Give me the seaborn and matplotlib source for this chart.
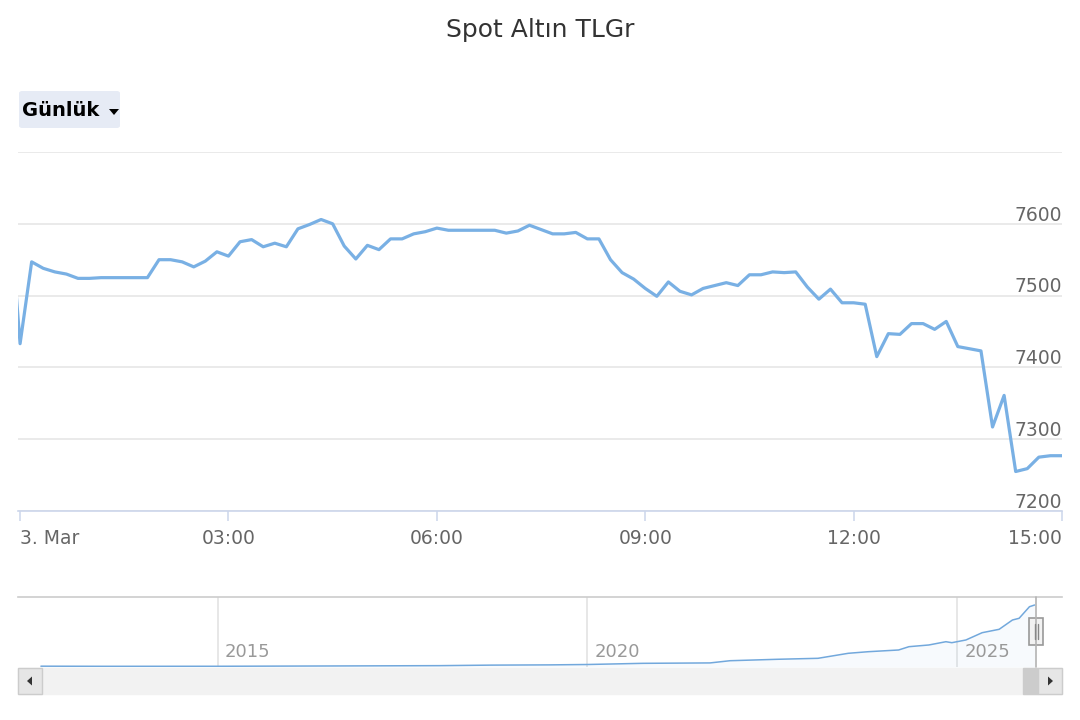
import numpy as np
import pandas as pd
import matplotlib
matplotlib.use("Agg")
import matplotlib.pyplot as plt
import seaborn as sns
from matplotlib.patches import Rectangle, FancyBboxPatch, Polygon
from matplotlib.lines import Line2D

# --- data -------------------------------------------------------------
title = "Spot Altın TLGr"
button_label = "Günlük"

# 10-minute prices, 3 March; the first one is the last tick of the day before
times = pd.date_range("2026-03-02 23:50", "2026-03-03 15:00", freq="10min")
price = [7640,
         7433, 7547, 7538, 7533, 7530, 7524, 7524, 7525, 7525, 7525,
         7525, 7525, 7550, 7550, 7547, 7540, 7548, 7561, 7555, 7575,
         7578, 7568, 7573, 7568, 7593, 7599, 7606, 7600, 7569, 7551,
         7570, 7564, 7579, 7579, 7586, 7589, 7594, 7591, 7591, 7591,
         7591, 7591, 7587, 7590, 7598, 7592, 7586, 7586, 7588, 7579,
         7579, 7550, 7532, 7523, 7510, 7499, 7519, 7506, 7501, 7510,
         7514, 7518, 7514, 7529, 7529, 7533, 7532, 7533, 7512, 7495,
         7509, 7490, 7490, 7488, 7415, 7447, 7446, 7461, 7461, 7453,
         7464, 7429, 7426, 7423, 7317, 7361, 7255, 7259, 7275, 7277,
         7277]

xtick_hours = [0, 3, 6, 9, 12, 15]
xtick_labels = ["3. Mar", "03:00", "06:00", "09:00", "12:00", "15:00"]
ytick_values = [7200, 7300, 7400, 7500, 7600, 7700]
ytick_labels = ["7200", "7300", "7400", "7500", "7600", ""]

# navigator (long history, TL per gram)
nav_year = [2012.61, 2013.5, 2015.0, 2016.5, 2018.0, 2018.7, 2019.5, 2020.0,
            2020.75, 2021.66, 2021.93, 2022.57, 2023.12, 2023.53, 2023.80,
            2024.21, 2024.35, 2024.62, 2024.85, 2024.93, 2025.12, 2025.34,
            2025.57, 2025.75, 2025.84, 2025.98, 2026.05]
nav_price = [100, 85, 90, 125, 165, 230, 260, 306,
             450, 500, 770, 945, 1065, 1680, 1875,
             2085, 2490, 2700, 3100, 2980, 3310, 4205,
             4620, 5760, 5970, 7390, 7600]
nav_ticks = [2015, 2020, 2025]

# --- style ------------------------------------------------------------
sns.set_theme(style="white")
plt.rcParams['font.family'] = ['DejaVu Sans']

W, H = 1080, 720
fig = plt.figure(figsize=(W / 100, H / 100), dpi=100)
line_col = "#7cb5ec"


def fbox(x0, y0, x1, y1):
    # pixel box (top-left origin) -> figure rect
    return [x0 / W, 1 - y1 / H, (x1 - x0) / W, (y1 - y0) / H]


# --- main chart -------------------------------------------------------
hours = (times - pd.Timestamp("2026-03-03 00:00")) / pd.Timedelta(hours=1)
df = pd.DataFrame({"hour": hours, "price": price})

ax = fig.add_axes(fbox(18, 152, 1062, 511))
sns.lineplot(data=df, x="hour", y="price", ax=ax, color="#79b0e4", lw=2.3)
ax.set_xlim(-0.03, 15.0)
ax.set_ylim(7200, 7700)
ax.set_xlabel("")
ax.set_ylabel("")
ax.set_yticks(ytick_values)
ax.set_yticklabels([])
ax.tick_params(axis="y", length=0)
ax.grid(axis="y", color="#e6e6e6", lw=1.2)
ax.grid(axis="x", visible=False)
for s in ["top", "left", "right"]:
    ax.spines[s].set_visible(False)
ax.spines["bottom"].set_color("#ccd6eb")
ax.spines["bottom"].set_linewidth(1.2)

ax.set_xticks(xtick_hours)
ax.set_xticklabels(xtick_labels, fontsize=13.5, color="#666666")
ax.tick_params(axis="x", bottom=True, length=7, width=1.1, color="#ccd6eb",
               pad=6, direction="out")
tl = ax.get_xticklabels()
tl[0].set_ha("left")
tl[-1].set_ha("right")

for v, lab in zip(ytick_values, ytick_labels):
    ax.text(1.0, v - 1, lab, transform=ax.get_yaxis_transform(),
            ha="right", va="bottom", fontsize=13.5, color="#666666")

fig.text(0.5, 1 - 30 / H, title, ha="center", va="center", fontsize=18, color="#333333")

# range selector button
btn = FancyBboxPatch((19 / W, 1 - 128 / H), 101 / W, 37 / H,
                     boxstyle="round,pad=0,rounding_size=0.003",
                     transform=fig.transFigure, fc="#e6ebf5", ec="none")
fig.add_artist(btn)
fig.text(22 / W, 1 - 110 / H, button_label, ha="left", va="center",
         fontsize=14, fontweight="bold", color="#000000")
fig.add_artist(Polygon([(109 / W, 1 - 109 / H), (119 / W, 1 - 109 / H), (114 / W, 1 - 115 / H)],
                       closed=True, transform=fig.transFigure, fc="#000000", ec="none"))

# --- navigator --------------------------------------------------------
nav = fig.add_axes(fbox(18, 597, 1062, 667))
nav_df = pd.DataFrame({"year": nav_year, "price": nav_price})
sns.lineplot(data=nav_df, x="year", y="price", ax=nav, color="#72a8dc", lw=1.1)
nav.fill_between(nav_year, nav_price, 0, color=line_col, alpha=0.06, lw=0)
nav.set_xlim(2012.3, 2026.42)
nav.set_ylim(0, 8580)
nav.set_xlabel("")
nav.set_ylabel("")
nav.set_yticks([])
nav.set_xticks(nav_ticks)
nav.set_xticklabels([])
nav.tick_params(length=0)
nav.grid(axis="x", color="#e0e0e0", lw=1.1)
nav.grid(axis="y", visible=False)
for s in ["bottom", "left", "right"]:
    nav.spines[s].set_visible(False)
nav.spines["top"].set_color("#cccccc")
nav.spines["top"].set_linewidth(1.2)
for yr in nav_ticks:
    nav.text(yr + 0.1, 0.08, str(yr), transform=nav.get_xaxis_transform(),
             ha="left", va="bottom", fontsize=13, color="#999999")

# handle at the right end of the navigator
fig.add_artist(Line2D([1036 / W, 1036 / W], [1 - 597 / H, 1 - 667 / H],
                      transform=fig.transFigure, color="#b3b3b3", lw=1.2))
fig.add_artist(Rectangle((1029 / W, 1 - 645 / H), 14 / W, 27 / H,
                         transform=fig.transFigure, fc="#f2f2f2", ec="#999999", lw=1.2))
for hx in [1034.5, 1037.5]:
    fig.add_artist(Line2D([hx / W, hx / W], [1 - 624 / H, 1 - 639 / H],
                          transform=fig.transFigure, color="#888888", lw=1))

# --- scrollbar --------------------------------------------------------
fig.add_artist(Rectangle(fbox(18, 668, 1062, 694)[:2], 1044 / W, 26 / H,
                         transform=fig.transFigure, fc="#f2f2f2", ec="#f2f2f2", lw=1))
fig.add_artist(Rectangle(fbox(1023, 668, 1038, 694)[:2], 15 / W, 26 / H,
                         transform=fig.transFigure, fc="#cccccc", ec="#cccccc", lw=1))
for x0 in [18, 1038]:
    fig.add_artist(Rectangle(fbox(x0, 668, x0 + 24, 694)[:2], 24 / W, 26 / H,
                             transform=fig.transFigure, fc="#e6e6e6", ec="#cccccc", lw=1))
fig.add_artist(Polygon([(27 / W, 1 - 681 / H), (32 / W, 1 - 676.5 / H), (32 / W, 1 - 685.5 / H)],
                       closed=True, transform=fig.transFigure, fc="#333333", ec="none"))
fig.add_artist(Polygon([(1053 / W, 1 - 681 / H), (1048 / W, 1 - 676.5 / H), (1048 / W, 1 - 685.5 / H)],
                       closed=True, transform=fig.transFigure, fc="#333333", ec="none"))

fig.savefig("out.png", dpi=100)
